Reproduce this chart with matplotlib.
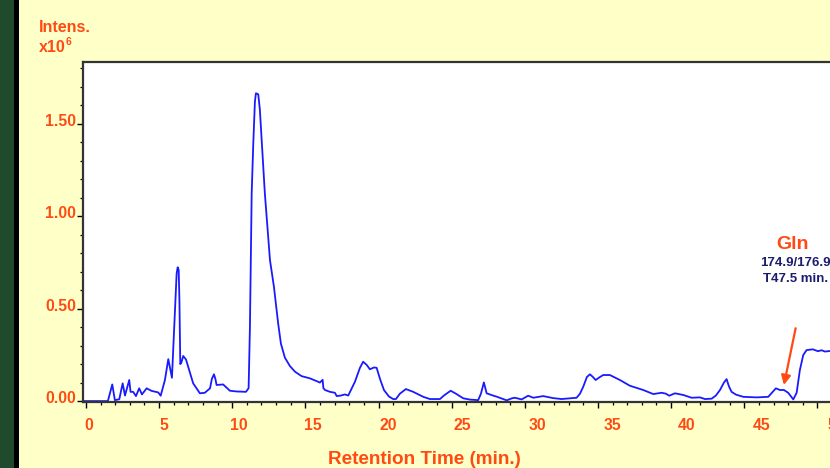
import matplotlib
matplotlib.use('Agg')
import matplotlib.pyplot as plt
import matplotlib.transforms as mtransforms
from matplotlib.patches import Rectangle
from matplotlib.ticker import MultipleLocator

# ---- data (retention time in min, intensity x10^6) ----
time_min = [-0.2, 1.50, 1.80, 1.98, 2.28, 2.51, 2.67, 2.96, 3.05, 3.23, 3.42, 3.64, 3.83, 4.15,
            4.49, 4.94, 5.11, 5.40, 5.63, 5.88, 6.08, 6.20, 6.27, 6.34, 6.39, 6.45, 6.53,
            6.65, 6.84, 7.33, 7.79, 8.13, 8.48, 8.61, 8.75, 8.85, 8.93, 9.38, 9.84, 10.30,
            10.94, 11.12, 11.21, 11.33, 11.44, 11.55, 11.62, 11.78, 11.89, 12.06, 12.23,
            12.58, 12.85, 13.14, 13.33, 13.60, 13.94, 14.29, 14.74, 15.31, 15.86, 15.99,
            16.18, 16.23, 16.34, 16.68, 17.02, 17.14, 17.43, 17.70, 17.93, 18.39, 18.73,
            18.95, 19.20, 19.41, 19.69, 19.87, 20.10, 20.37, 20.71, 21.00, 21.19, 21.46,
            21.87, 22.37, 23.06, 23.51, 24.20, 24.47, 24.93, 25.29, 25.79, 26.25, 26.81,
            27.00, 27.20, 27.39, 27.82, 28.07, 28.76, 29.12, 29.32, 29.78, 30.23, 30.58,
            31.26, 31.94, 32.51, 33.54, 33.77, 33.99, 34.24, 34.45, 34.66, 34.84, 35.13,
            35.36, 35.81, 36.50, 37.18, 38.09, 38.78, 39.35, 39.64, 39.87, 40.26, 40.83,
            41.40, 41.97, 42.31, 42.77, 43.06, 43.34, 43.61, 43.79, 43.95, 44.13, 44.43,
            44.93, 45.84, 46.64, 46.89, 47.16, 47.43, 47.71, 48.00, 48.35, 48.58, 48.80,
            49.03, 49.26, 49.69, 50.03, 50.29, 50.51, 50.85, 51.5]
intensity = [0.0, 0.0, 0.090, 0.005, 0.010, 0.096, 0.030, 0.114, 0.050, 0.050, 0.027, 0.069,
             0.036, 0.069, 0.055, 0.047, 0.029, 0.114, 0.227, 0.126, 0.475, 0.690, 0.724,
             0.710, 0.550, 0.200, 0.210, 0.244, 0.225, 0.096, 0.042, 0.045, 0.069, 0.120,
             0.145, 0.120, 0.087, 0.090, 0.056, 0.052, 0.050, 0.070, 0.400, 1.124, 1.395,
             1.620, 1.666, 1.660, 1.576, 1.350, 1.124, 0.763, 0.619, 0.420, 0.310, 0.235,
             0.190, 0.159, 0.135, 0.123, 0.105, 0.100, 0.115, 0.070, 0.060, 0.050, 0.045,
             0.027, 0.030, 0.036, 0.030, 0.105, 0.180, 0.213, 0.195, 0.172, 0.182, 0.180,
             0.120, 0.060, 0.025, 0.011, 0.011, 0.040, 0.065, 0.050, 0.023, 0.011, 0.011,
             0.030, 0.056, 0.040, 0.015, 0.008, 0.005, 0.040, 0.101, 0.042, 0.030, 0.024,
             0.004, 0.015, 0.018, 0.009, 0.029, 0.018, 0.027, 0.016, 0.011, 0.018, 0.040,
             0.077, 0.130, 0.145, 0.130, 0.114, 0.130, 0.141, 0.141, 0.114, 0.083, 0.060,
             0.038, 0.045, 0.040, 0.029, 0.042, 0.033, 0.018, 0.020, 0.011, 0.013, 0.030,
             0.060, 0.100, 0.119, 0.080, 0.050, 0.035, 0.023, 0.020, 0.023, 0.045, 0.069,
             0.060, 0.060, 0.045, 0.009, 0.045, 0.168, 0.249, 0.276, 0.280, 0.270, 0.275,
             0.268, 0.271, 0.270]

x_ticks = [0, 5, 10, 15, 20, 25, 30, 35, 40, 45, 50]
x_tick_labels = ['0', '5', '10', '15', '20', '25', '30', '35', '40', '45', '50']
y_ticks = [0.0, 0.5, 1.0, 1.5]
y_tick_labels = ['0.00', '0.50', '1.00', '1.50']

peak_name = 'Gln'
peak_mz = '174.9/176.9'
peak_rt = 'T47.5 min.'
arrow_tail = (48.51, 0.394)
arrow_head = (47.71, 0.087)

# ---- styling ----
plt.rcParams['font.family'] = ['Liberation Sans', 'DejaVu Sans']
ORANGE = '#FF4A14'
NAVY = '#1C1C6E'
BLUE = '#1A1AFF'
W, H = 830, 468

fig = plt.figure(figsize=(W / 100, H / 100), dpi=100)
fig.patch.set_facecolor('#FFFFC8')
fig.patches.append(Rectangle((0, 0), 14 / W, 1, transform=fig.transFigure,
                             facecolor='#1F4A2C', edgecolor='none', zorder=0))
fig.patches.append(Rectangle((14 / W, 0), 5 / W, 1, transform=fig.transFigure,
                             facecolor='black', edgecolor='none', zorder=0))

x0, x1 = -0.2, 52.0
ax = fig.add_axes([83 / W, 66 / H, (x1 - x0) * 14.63 / W, 340 / H])
ax.set_facecolor('white')
ax.plot(time_min, intensity, color=BLUE, lw=1.3)
ax.set_xlim(x0, x1)
ax.set_ylim(-0.005, 1.835)

ax.set_xticks(x_ticks)
ax.set_xticklabels(x_tick_labels)
ax.set_yticks(y_ticks)
ax.set_yticklabels(y_tick_labels)
ax.xaxis.set_minor_locator(MultipleLocator(1))
ax.yaxis.set_minor_locator(MultipleLocator(0.1))
ax.tick_params(axis='both', which='major', direction='out', length=4.3, width=1.0,
               color='black', labelcolor=ORANGE, labelsize=11.3)
ax.tick_params(axis='both', which='minor', direction='out', length=2.4, width=0.9,
               color='black')
ax.tick_params(axis='x', which='major', pad=7)
ax.tick_params(axis='y', which='major', pad=0.5)
for lbl in ax.get_xticklabels() + ax.get_yticklabels():
    lbl.set_fontweight('bold')

# tick labels in the reference are slightly offset from their ticks
for t, lbl in zip(x_ticks, ax.get_xticklabels()):
    dx = (3 + 0.32 * t) / 100
    lbl.set_transform(lbl.get_transform() +
                      mtransforms.ScaledTranslation(dx, 0, fig.dpi_scale_trans))
for lbl in ax.get_yticklabels():
    lbl.set_transform(lbl.get_transform() +
                      mtransforms.ScaledTranslation(0, 4 / 100, fig.dpi_scale_trans))

for side in ['top', 'left', 'bottom']:
    ax.spines[side].set_color('#333333')
    ax.spines[side].set_linewidth(1.6)
ax.spines['right'].set_visible(False)

# annotation
ax.annotate('', xy=arrow_head, xytext=arrow_tail,
            arrowprops=dict(arrowstyle='-|>', color=ORANGE, lw=1.6,
                            mutation_scale=14, shrinkA=0, shrinkB=0),
            annotation_clip=False)
ax.text(48.28, 0.845, peak_name, color=ORANGE, fontsize=14, fontweight='bold',
        ha='center', va='center', clip_on=False)
ax.text(48.46, 0.747, peak_mz, color=NAVY, fontsize=9.5, fontweight='bold',
        ha='center', va='center', clip_on=False)
ax.text(48.52, 0.659, peak_rt, color=NAVY, fontsize=9.5, fontweight='bold',
        ha='center', va='center', clip_on=False)

# axis titles
fig.text(39 / W, 1 - 28 / H, 'Intens.', color=ORANGE, fontsize=11.5,
         fontweight='bold', ha='left', va='center')
fig.text(39 / W, 1 - 48 / H, 'x10', color=ORANGE, fontsize=11.5,
         fontweight='bold', ha='left', va='center')
fig.text(65.5 / W, 1 - 42 / H, '6', color=ORANGE, fontsize=7.5,
         fontweight='bold', ha='left', va='center')
fig.text(424.7 / W, 1 - 460 / H, 'Retention Time (min.)', color=ORANGE,
         fontsize=13.6, fontweight='bold', ha='center', va='center')

fig.savefig('out.png', dpi=100, facecolor=fig.get_facecolor())
